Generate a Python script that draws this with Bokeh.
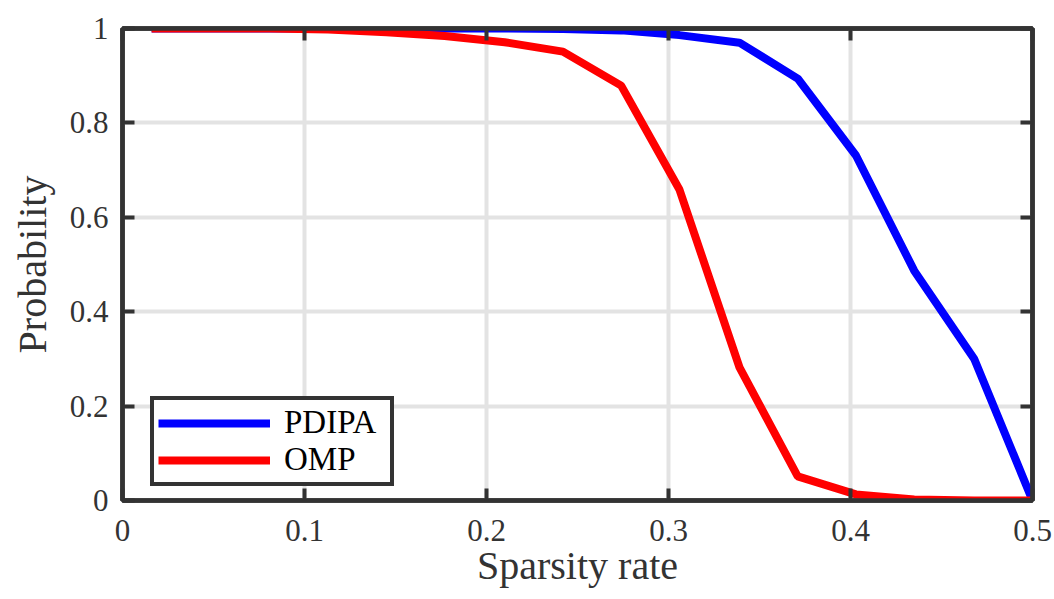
from bokeh.plotting import figure
from bokeh.models import (Range1d, FixedTicker, LinearAxis, CustomJSTickFormatter,
                          Legend, LegendItem)
from bokeh.embed import file_html
from bokeh.resources import INLINE

# ---- data ----
sparsity = [0.016, 0.048, 0.081, 0.113, 0.145, 0.177, 0.210, 0.242,
            0.274, 0.306, 0.339, 0.371, 0.403, 0.435, 0.468, 0.500]
pdipa = [1.0, 1.0, 1.0, 1.0, 1.0, 1.0, 1.0, 0.999,
         0.996, 0.986, 0.970, 0.894, 0.731, 0.487, 0.300, 0.0]
omp = [1.0, 1.0, 1.0, 0.998, 0.992, 0.984, 0.971, 0.951,
       0.879, 0.659, 0.282, 0.051, 0.013, 0.002, 0.0, 0.0]
x_ticks = [0, 0.1, 0.2, 0.3, 0.4, 0.5]
y_ticks = [0, 0.2, 0.4, 0.6, 0.8, 1.0]
series_names = ["PDIPA", "OMP"]

FONT = "Liberation Serif"
AX = "#333333"

p = figure(width=1054, height=599, output_backend="svg", toolbar_location=None,
           x_range=Range1d(0, 0.5), y_range=Range1d(0, 1),
           min_border_left=122, min_border_right=22,
           min_border_top=28, min_border_bottom=99)
p.background_fill_color = "white"
p.border_fill_color = "white"
p.outline_line_color = AX
p.outline_line_width = 4.5

fmt = CustomJSTickFormatter(code="return tick.toFixed(1).replace(/\\.0$/, '');")

def style_axis(ax, ticks, show_labels):
    ax.ticker = FixedTicker(ticks=ticks)
    ax.axis_line_color = AX
    ax.axis_line_width = 4.5
    ax.major_tick_line_color = AX
    ax.major_tick_line_width = 4
    ax.major_tick_in = 12
    ax.major_tick_out = 0
    ax.minor_tick_line_color = None
    if show_labels:
        ax.formatter = fmt
        ax.major_label_text_font = FONT
        ax.major_label_text_font_size = "31px"
        ax.major_label_text_color = AX
        ax.axis_label_text_font = FONT
        ax.axis_label_text_font_size = "40px"
        ax.axis_label_text_font_style = "normal"
        ax.axis_label_text_color = AX
    else:
        ax.major_label_text_font_size = "1px"
        ax.major_label_text_color = None
        ax.major_label_standoff = 0

style_axis(p.xaxis[0], x_ticks, True)
style_axis(p.yaxis[0], y_ticks, True)
p.xaxis[0].axis_label = "Sparsity rate"
p.yaxis[0].axis_label = "Probability"
p.xaxis[0].major_label_standoff = 19
p.xaxis[0].axis_label_standoff = -1
p.yaxis[0].major_label_standoff = 14
p.yaxis[0].axis_label_standoff = 12

top_ax = LinearAxis()
right_ax = LinearAxis()
style_axis(top_ax, x_ticks, False)
style_axis(right_ax, y_ticks, False)
p.add_layout(top_ax, "above")
p.add_layout(right_ax, "right")

p.xgrid.ticker = FixedTicker(ticks=x_ticks)
p.ygrid.ticker = FixedTicker(ticks=y_ticks)
for g in (p.xgrid, p.ygrid):
    g.grid_line_color = "#e3e3e3"
    g.grid_line_width = 4

r1 = p.line(sparsity, pdipa, line_color="#0000ff", line_width=8)
r2 = p.line(sparsity, omp, line_color="#ff0000", line_width=8)

legend = Legend(items=[LegendItem(label=series_names[0], renderers=[r1]),
                       LegendItem(label=series_names[1], renderers=[r2])],
                location=(28, 14))
legend.border_line_color = AX
legend.border_line_alpha = 1
legend.border_line_width = 4
legend.background_fill_color = "white"
legend.background_fill_alpha = 1
legend.label_text_font = FONT
legend.label_text_font_size = "33px"
legend.label_text_color = "black"
legend.glyph_width = 112
legend.glyph_height = 30
legend.label_standoff = 14
legend.label_width = 102
legend.padding = 4
legend.spacing = 0
legend.margin = 0
p.add_layout(legend)

open("out.html", "w").write(file_html(p, INLINE))
